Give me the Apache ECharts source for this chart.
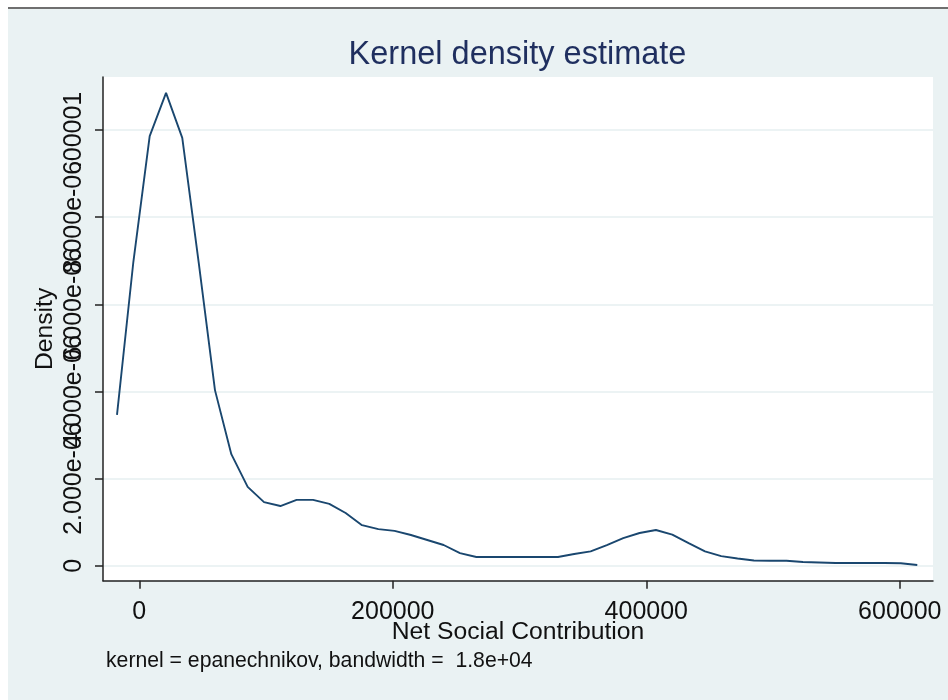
<!DOCTYPE html>
<html><head><meta charset="utf-8">
<script src="https://cdn.jsdelivr.net/npm/echarts@6/dist/echarts.min.js"></script>
<style>html,body{margin:0;padding:0;background:#fff}#c{width:948px;height:700px}</style>
</head><body><div id="c"></div>
<script>
const titleText = 'Kernel density estimate';
const xAxisTitle = 'Net Social Contribution';
const yAxisTitle = 'Density';
const noteText = 'kernel = epanechnikov, bandwidth =  1.8e+04';

const xValues = [-17600, -4700, 8200, 21100, 33900, 46900, 59700, 72600, 85500, 98400,
  111300, 124100, 137100, 149900, 162800, 175700, 188600, 201400, 214300, 227200,
  240100, 253000, 265900, 278800, 291600, 304600, 317400, 330300, 343100, 356100,
  368900, 381800, 394700, 407600, 420500, 433400, 446300, 459100, 472000, 484900,
  497800, 510600, 523600, 536400, 549300, 562200, 575100, 588000, 600800, 613800];
const densityValues = [3.46e-6, 6.97e-6, 9.86e-6, 1.085e-5, 9.82e-6, 6.95e-6, 4.03e-6, 2.56e-6, 1.81e-6, 1.46e-6,
  1.37e-6, 1.51e-6, 1.51e-6, 1.42e-6, 1.21e-6, 9.3e-7, 8.4e-7, 8.0e-7, 7.05e-7, 5.9e-7,
  4.75e-7, 2.9e-7, 2.0e-7, 2.0e-7, 2.0e-7, 2.0e-7, 2.0e-7, 2.0e-7, 2.7e-7, 3.3e-7,
  4.75e-7, 6.35e-7, 7.5e-7, 8.2e-7, 7.15e-7, 5.2e-7, 3.3e-7, 2.2e-7, 1.65e-7, 1.2e-7,
  1.15e-7, 1.15e-7, 8.5e-8, 7.3e-8, 6.2e-8, 6.2e-8, 6.2e-8, 6.2e-8, 5.5e-8, 1.6e-8];
const xTickValues = [0, 200000, 400000, 600000];
const xTickLabels = ['0', '200000', '400000', '600000'];
const yTickValues = [0, 2e-6, 4e-6, 6e-6, 8e-6, 1e-5];
const yTickLabels = ['0', '2.000e-06', '4.000e-06', '6.000e-06', '8.000e-06', '.00001'];

const FONT = "'Liberation Sans', Arial, sans-serif";
const Y_MIN = -3.44e-7, Y_MAX = 1.1216e-5;
const seriesData = xValues.map((x, i) => [x, densityValues[i]]);
function labelFor(values, labels, v) {
  for (let i = 0; i < values.length; i++) {
    if (Math.abs(values[i] - v) <= Math.abs(values[i]) * 1e-6 + 1e-12) return labels[i];
  }
  return '';
}
// split the y tick labels over two stacked axes so none is dropped for overlapping
const yTicksA = yTickValues.filter((v, i) => i % 2 === 0);
const yTicksB = yTickValues.filter((v, i) => i % 2 === 1);
function yLabelStyle(vals) {
  return { customValues: vals, rotate: 90, margin: 16, fontFamily: FONT, fontSize: 25, color: '#111111',
    hideOverlap: false, showMinLabel: true, showMaxLabel: true,
    formatter: v => labelFor(yTickValues, yTickLabels, v) };
}

const chart = echarts.init(document.getElementById('c'));
chart.setOption({
  animation: false,
  backgroundColor: '#ffffff',
  graphic: [
    { type: 'rect', z: -10, shape: { x: 8, y: 7, width: 940, height: 2 }, style: { fill: '#6f6f6f' }, silent: true },
    { type: 'rect', z: -10, shape: { x: 8, y: 9, width: 940, height: 691 }, style: { fill: '#eaf2f3' }, silent: true },
    { type: 'text', x: 517.5, y: 55, style: { text: titleText, fill: '#1f2f5f', font: '32.5px ' + FONT, align: 'center', verticalAlign: 'middle' } },
    { type: 'text', x: 106, y: 661, style: { text: noteText, fill: '#111111', font: '21.2px ' + FONT, align: 'left', verticalAlign: 'middle' } }
  ],
  grid: { left: 103, right: 15, top: 77, bottom: 119.3, show: true, backgroundColor: '#ffffff', borderWidth: 0 },
  xAxis: {
    type: 'value', min: -28640, max: 626200,
    name: xAxisTitle, nameLocation: 'middle', nameGap: 39, nameMoveOverlap: false,
    nameTextStyle: { fontFamily: FONT, fontSize: 24.7, color: '#111111' },
    axisLine: { show: true, onZero: false, lineStyle: { color: '#222222', width: 1.5 } },
    axisTick: { show: true, length: 8, lineStyle: { color: '#222222', width: 1.5 }, customValues: xTickValues },
    axisLabel: { customValues: xTickValues, margin: 19, fontFamily: FONT, fontSize: 25, color: '#111111',
      showMinLabel: true, showMaxLabel: true,
      formatter: v => labelFor(xTickValues, xTickLabels, v) },
    splitLine: { show: false }
  },
  yAxis: [{
    type: 'value', min: Y_MIN, max: Y_MAX, position: 'left',
    name: yAxisTitle, nameLocation: 'middle', nameGap: 45, nameRotate: 90, nameMoveOverlap: false,
    nameTextStyle: { fontFamily: FONT, fontSize: 24.7, color: '#111111' },
    axisLine: { show: true, onZero: false, lineStyle: { color: '#222222', width: 1.5 } },
    axisTick: { show: true, length: 8, lineStyle: { color: '#222222', width: 1.5 }, customValues: yTickValues },
    axisLabel: yLabelStyle(yTicksA),
    splitLine: { show: true, lineStyle: { color: '#e6eff1', width: 1.5 } }
  }, {
    type: 'value', min: Y_MIN, max: Y_MAX, position: 'left', offset: 0,
    axisLine: { show: false, onZero: false },
    axisTick: { show: false },
    axisLabel: yLabelStyle(yTicksB),
    splitLine: { show: false }
  }],
  series: [{
    type: 'line', data: seriesData, yAxisIndex: 0, showSymbol: false, symbol: 'none', smooth: false,
    lineStyle: { color: '#1a476f', width: 1.9 }, clip: true
  }]
});
</script></body></html>
